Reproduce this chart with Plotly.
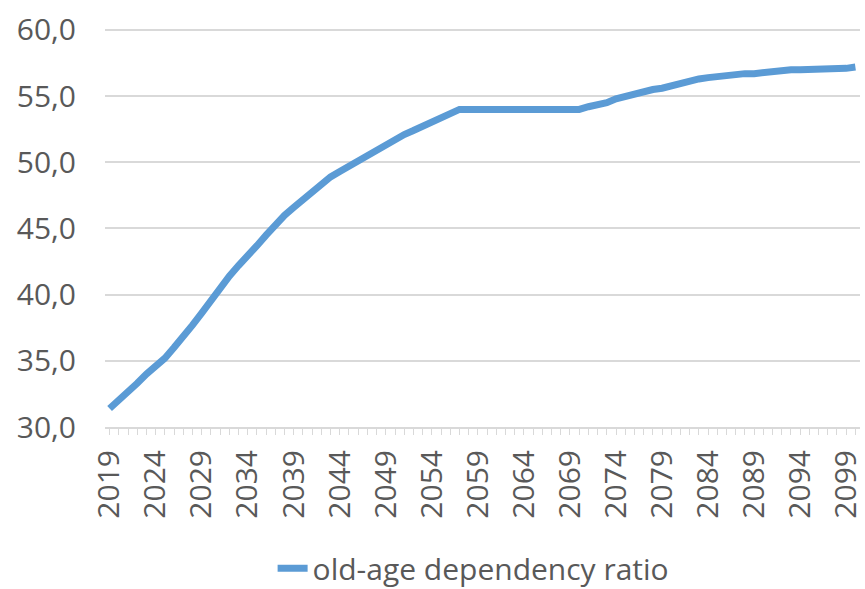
import plotly.graph_objects as go

# Old-age dependency ratio projection, 2019-2100
years = list(range(2019, 2101))
ratio = [
    31.4, 32.0, 32.6, 33.3, 34.0, 34.6, 35.2, 36.0, 36.8, 37.7,   # 2019-2028
    38.6, 39.6, 40.5, 41.4, 42.2, 42.9, 43.7, 44.5, 45.3, 46.0,   # 2029-2038
    46.6, 47.2, 47.8, 48.4, 48.9, 49.3, 49.7, 50.1, 50.6, 51.0,   # 2039-2048
    51.3, 51.7, 52.1, 52.4, 52.7, 53.0, 53.3, 53.6, 54.0, 54.0,   # 2049-2058
    54.0, 54.0, 54.0, 54.0, 54.0, 54.0, 54.0, 54.0, 54.0, 54.0,   # 2059-2068
    54.0, 54.0, 54.2, 54.3, 54.5, 54.8, 55.0, 55.2, 55.3, 55.5,   # 2069-2078
    55.6, 55.8, 55.9, 56.1, 56.3, 56.4, 56.5, 56.6, 56.6, 56.7,   # 2079-2088
    56.7, 56.8, 56.9, 56.9, 57.0, 57.0, 57.0, 57.0, 57.0, 57.1,   # 2089-2098
    57.1, 57.2,                                                   # 2099-2100
]
x_tick_years = list(range(2019, 2101, 5))
y_ticks = [30, 35, 40, 45, 50, 55, 60]

LINE_BLUE = "#5b9bd5"
TEXT_GREY = "#595959"
GRID_GREY = "#d9d9d9"
FONT = "Open Sans"
FONT_SIZE = 30

fig = go.Figure()
fig.add_trace(go.Scatter(
    x=years, y=ratio, mode="lines",
    name="old-age dependency ratio",
    line=dict(color=LINE_BLUE, width=7),
))

fig.update_layout(
    width=865, height=589,
    margin=dict(l=105, r=5, t=26, b=162, autoexpand=False),
    paper_bgcolor="white", plot_bgcolor="white",
    separators=", ",
    font=dict(family=FONT, color=TEXT_GREY, size=FONT_SIZE),
    showlegend=True,
    legend=dict(
        orientation="h", x=0.222, xanchor="left", y=-0.352, yanchor="middle",
        font=dict(size=FONT_SIZE, color=TEXT_GREY), bgcolor="rgba(0,0,0,0)",
        borderwidth=0, tracegroupgap=0,
    ),
    xaxis=dict(
        range=[2018.5, 2100.5],
        tickmode="array", tickvals=x_tick_years,
        ticktext=[str(y) for y in x_tick_years],
        tickangle=-90, automargin=False,
        showgrid=False, zeroline=False,
        showline=True, linecolor=GRID_GREY, linewidth=2,
        ticks="outside", ticklen=6, tickcolor=GRID_GREY, tickwidth=1,
        minor=dict(dtick=1, tick0=2019, ticks="outside", ticklen=6,
                   tickcolor=GRID_GREY, tickwidth=1, showgrid=False),
        tickfont=dict(size=FONT_SIZE, color=TEXT_GREY),
        ticklabelstandoff=3,
    ),
    yaxis=dict(
        range=[30, 60.3], automargin=False,
        tickmode="array", tickvals=y_ticks, tickformat=".1f",
        showgrid=True, gridcolor=GRID_GREY, gridwidth=2,
        zeroline=False, showline=False, ticks="",
        tickfont=dict(size=FONT_SIZE, color=TEXT_GREY),
        ticklabelstandoff=28,
    ),
)

fig.write_html("out.html")
